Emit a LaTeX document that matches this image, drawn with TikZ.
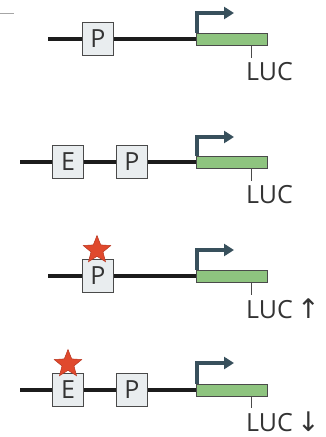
\documentclass[tikz,border=0pt]{standalone}
\usepackage{fontspec}
\setmainfont{Open Sans}
\newfontfamily\arrfont{DejaVu Sans}
\usetikzlibrary{arrows.meta,shapes.geometric}
\definecolor{dna}{HTML}{1C1C1C}
\definecolor{boxfill}{HTML}{E9EDEF}
\definecolor{boxline}{HTML}{4A4A4A}
\definecolor{genefill}{HTML}{8EC47F}
\definecolor{tss}{HTML}{38505C}
\definecolor{starfill}{HTML}{E0492D}
\definecolor{starline}{HTML}{B8341E}
\definecolor{txt}{HTML}{333333}
\tikzset{
  dnaline/.style={draw=dna,line width=4.5pt},
  elem/.style={draw=boxline,line width=0.9pt,fill=boxfill,minimum width=31pt,minimum height=33pt,inner sep=0pt,font=\fontsize{25}{25}\selectfont,text=txt},
  gene/.style={draw=boxline,line width=0.9pt,fill=genefill,minimum width=71pt,minimum height=12pt,inner sep=0pt,anchor=west},
  tssarrow/.style={draw=tss,line width=3.6pt,-{Triangle[length=10pt,width=12pt]}},
  tick/.style={draw=boxline,line width=0.9pt},
  luc/.style={font=\fontsize{25}{25}\selectfont,text=txt,anchor=north west,inner sep=0pt},
  mut/.style={star,star points=5,star point ratio=2.3,fill=starfill,draw=starline,line width=0.5pt,minimum size=29pt,inner sep=0pt}
}
\begin{document}
\begin{tikzpicture}[x=1pt,y=-1pt]
\useasboundingbox (0,0) rectangle (325,437);
% top-left fragment
\coordinate (fragA) at (0,13);
\coordinate (fragB) at (14,13);
\draw[draw=gray!70,line width=1pt] (fragA) -- (fragB);

% Row 1
\coordinate (s1) at (48,39);
\node[gene] (g1) at (196,39) {};
\draw[dnaline] (s1) -- (g1.west);
\node[elem] (p1) at (98,39) {P};
\coordinate (a1) at (196,13);
\draw[tssarrow] ([xshift=1pt]g1.north west) -- ([xshift=1pt]a1) -- (234,13);
\coordinate (t1) at (251,58);
\draw[tick] (g1.south west -| t1) -- (t1);
\node[luc] (l1) at (246,62) {LUC};

% Row 2
\coordinate (s2) at (20,162);
\node[gene] (g2) at (196,162) {};
\draw[dnaline] (s2) -- (g2.west);
\node[elem] (e2) at (68,162) {E};
\node[elem] (p2) at (132,162) {P};
\coordinate (a2) at (196,137);
\draw[tssarrow] ([xshift=1pt]g2.north west) -- ([xshift=1pt]a2) -- (234,137);
\coordinate (t2) at (251,181);
\draw[tick] (g2.south west -| t2) -- (t2);
\node[luc] (l2) at (246,185) {LUC};

% Row 3
\coordinate (s3) at (48,276);
\node[gene] (g3) at (196,276) {};
\draw[dnaline] (s3) -- (g3.west);
\node[elem] (p3) at (98,276) {P};
\node[mut] (m3) at (97,250) {};
\coordinate (a3) at (196,250);
\draw[tssarrow] ([xshift=1pt]g3.north west) -- ([xshift=1pt]a3) -- (234,250);
\coordinate (t3) at (251,295);
\draw[tick] (g3.south west -| t3) -- (t3);
\node[luc] (l3) at (246,299) {LUC\,{\arrfont\fontsize{27}{27}\selectfont ↑}};

% Row 4
\coordinate (s4) at (20,390);
\node[gene] (g4) at (196,390) {};
\draw[dnaline] (s4) -- (g4.west);
\node[elem] (e4) at (68,390) {E};
\node[elem] (p4) at (132,390) {P};
\node[mut] (m4) at (68,364) {};
\coordinate (a4) at (196,363);
\draw[tssarrow] ([xshift=1pt]g4.north west) -- ([xshift=1pt]a4) -- (234,363);
\coordinate (t4) at (251,408);
\draw[tick] (g4.south west -| t4) -- (t4);
\node[luc] (l4) at (246,412) {LUC\,{\arrfont\fontsize{27}{27}\selectfont ↓}};
\end{tikzpicture}
\end{document}
